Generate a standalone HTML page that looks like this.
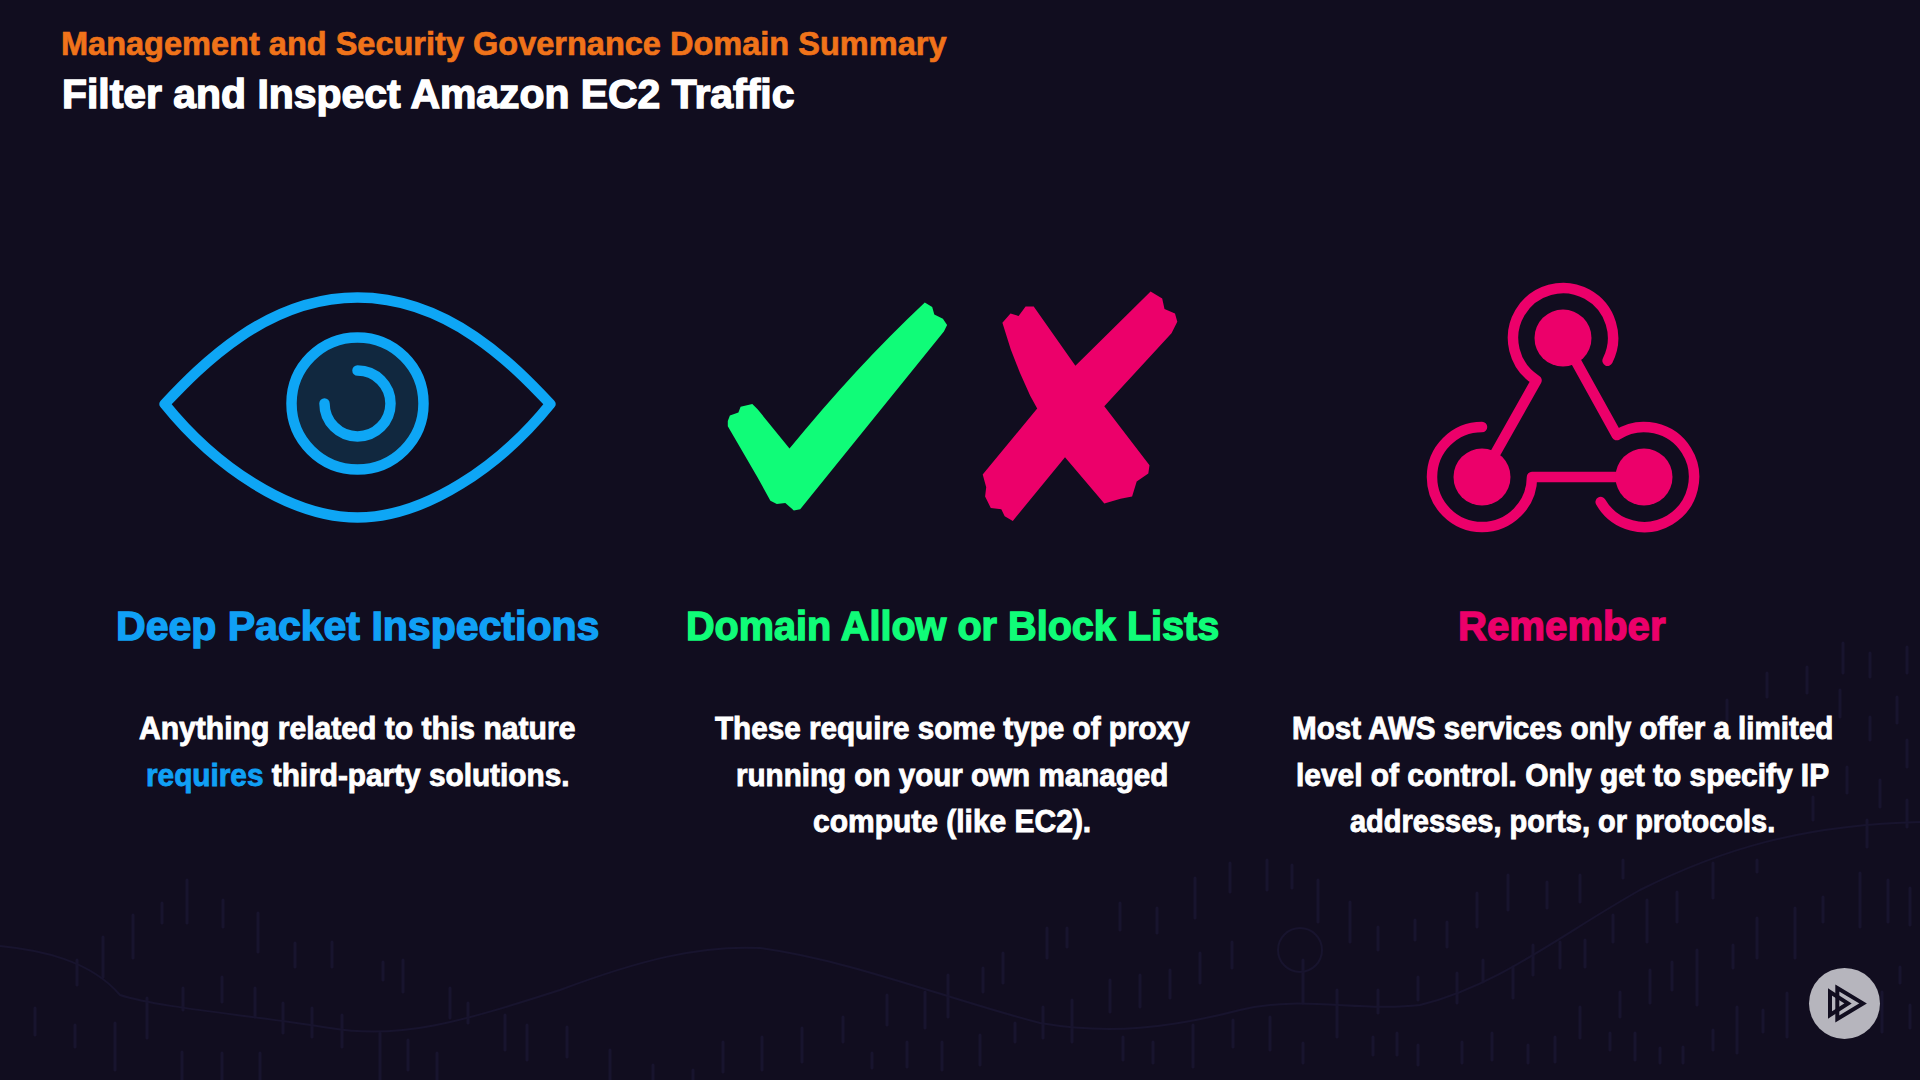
<!DOCTYPE html>
<html><head><meta charset="utf-8">
<style>
html,body{margin:0;padding:0;}
body{width:1920px;height:1080px;overflow:hidden;background:#110d1f;position:relative;font-family:"Liberation Sans",sans-serif;font-weight:bold;}
.t{position:absolute;white-space:nowrap;line-height:1;transform-origin:0 0;}
.o{color:#f0731a;}
.w{color:#fff;}
.blue{color:#10a0f5;}
.green{color:#10fc78;}
.pink{color:#ec006a;}
svg{position:absolute;left:0;top:0;}
</style></head>
<body>
<!--BG-->
<svg width="1920" height="1080" viewBox="0 0 1920 1080" style="position:absolute;left:0;top:0">
  <path d="M187 880V923 M162 903V923 M223 900V927 M133 915V958 M103 937V977 M77 960V985 M258 913V952 M295 943V967 M332 942V967 M383 962V980 M403 960V992 M147 998V1038 M183 988V1010 M222 977V1002 M255 988V1017 M283 1003V1033 M312 1008V1037 M342 1015V1047 M450 988V1018 M468 1003V1023 M505 1015V1050 M527 1025V1060 M567 1027V1057 M610 1050V1080 M35 1008V1035 M75 1025V1047 M115 1023V1070 M182 1052V1080 M222 1053V1080 M260 1053V1080 M380 1033V1080 M408 1040V1070 M437 1053V1080 M1120 903V930 M1157 908V933 M1195 878V918 M1230 863V892 M1267 860V890 M1047 928V958 M1067 928V947 M1003 953V983 M983 968V992 M948 975V1017 M887 995V1025 M925 992V1028 M1110 980V1012 M1140 975V1007 M1170 970V998 M1200 953V983 M1232 942V968 M1043 1007V1038 M1072 1000V1042 M1015 1023V1042 M980 1035V1065 M942 1042V1070 M907 1042V1067 M872 1053V1068 M843 1017V1042 M802 1028V1062 M762 1037V1070 M723 1042V1072 M653 1065V1080 M693 1070V1080 M1123 1037V1060 M1153 1042V1063 M1193 1025V1067 M1233 1020V1047 M1270 1017V1050 M1292 865V888 M1318 880V922 M1350 902V942 M1378 927V950 M1415 920V940 M1447 922V947 M1477 893V927 M1508 875V910 M1547 882V908 M1580 875V902 M1623 860V878 M1647 900V942 M1677 892V922 M1613 915V942 M1713 863V898 M1757 860V872 M1757 918V958 M1795 908V958 M1823 897V922 M1860 873V927 M1888 880V922 M1910 888V925 M1585 940V967 M1560 942V968 M1533 945V975 M1483 960V982 M1457 973V1003 M1418 977V1000 M1378 990V1013 M1337 990V1037 M1303 960V1003 M1513 967V998 M1672 962V990 M1650 970V1003 M1697 950V1005 M1733 945V968 M1620 992V1017 M1900 967V983 M1580 1007V1038 M1635 1033V1060 M1660 1048V1063 M1683 1047V1063 M1713 1030V1050 M1737 1007V1053 M1763 1010V1032 M1787 993V1037 M1882 992V1032 M1910 1005V1028 M1610 1033V1050 M1303 1043V1063 M1373 1037V1055 M1397 1033V1055 M1418 1045V1065 M1462 1042V1063 M1492 1033V1060 M1528 1045V1063 M1555 1037V1062 M1843 643V673 M1870 653V677 M1907 647V673 M1767 673V697 M1807 667V693 M1840 690V717 M1897 697V723 M1727 700V720 M1870 717V740 M1907 740V767 M1847 767V793 M1880 780V807 M1907 800V827 M1813 797V820 M1867 820V847" stroke="#18142e" stroke-width="3" stroke-linecap="round" fill="none"/>
  <path d="M0 946 C40 950 90 960 120 995 C160 1008 250 1015 330 1028 C400 1040 460 1022 560 990 C640 960 700 945 760 948 C850 960 950 1000 1040 1023 C1110 1035 1170 1028 1240 1010 C1300 995 1360 1012 1420 1005 C1500 985 1560 935 1640 890 C1720 850 1800 825 1920 822" stroke="#18142e" stroke-width="2" fill="none"/>
  <circle cx="1300" cy="950" r="22" stroke="#18142e" stroke-width="2" fill="none"/>
</svg>
<!--/BG-->
<svg width="1920" height="1080" viewBox="0 0 1920 1080">
  <!-- eye -->
  <g fill="none" stroke="#0ea6f5" stroke-width="10.5" stroke-linecap="round" stroke-linejoin="round">
    <path d="M164.7,404 C200.6,366.1 266.2,297.5 357.5,297.5 C448.8,297.5 514.4,366.1 550.3,404 C500.2,466.2 425.2,517.5 357.5,517.5 C289.8,517.5 214.8,466.2 164.7,404 Z"/>
    <circle cx="357.5" cy="403.5" r="66" fill="#11283f"/>
    <path d="M357.5,370.5 A33,33 0 1 1 324.5,403.5"/>
  </g>
  <!-- check -->
  <path fill="#10fc78" d="M727.8,421 L729.9,415.6 L738.4,412.4 L740.6,406.7 L752.3,403.9 L757.6,409.2 L789.5,448.6 Q855,368 924.8,302.4 L932.2,307 L934.3,314.5 L942.9,318.7 L947.1,325.1 L943.9,331.5 L800.2,509.3 L793.8,510.4 L785.3,502.9 L776.8,504 L770.4,500.8 L757.6,477.4 L727.8,426.3 Z"/>
  <!-- x -->
  <path fill="#ec006a" d="M1002.4,322.8 L1010.5,313.6 L1018.6,315.9 L1025.6,306.6 L1033.7,306.6 L1075.4,365.7 L1150.6,291.6 L1162.2,298.5 L1164.5,308.9 L1175,313.6 L1177.3,321.7 L1171.5,333.3 L1104.3,406.2 L1149.5,465.3 L1148.3,473.4 L1136.7,481.5 L1132.1,496.5 L1120.5,498.8 L1104.3,503.5 L1065,457.2 L1012.8,520.9 L1004.7,516.2 L1001.3,509.3 L990.8,508.1 L985.1,496.5 L986.2,487.3 L982.7,474.5 L1037.2,408.5 L1030.2,395.8 L1019.8,372.6 L1010.8,349.5 Z"/>
  <!-- webhook -->
  <g fill="none" stroke="#ec006a" stroke-width="10.5" stroke-linecap="round" stroke-linejoin="round">
    <path d="M1482,477 L1536.5,380.4 A50,50 0 1 1 1607.6,360.7"/>
    <path d="M1563,338 L1616.8,435.1 A50,50 0 1 1 1600.7,502"/>
    <path d="M1644,477 L1532,477 A50,50 0 1 1 1482,427"/>
  </g>
  <g fill="#ec006a">
    <circle cx="1563" cy="338" r="28.5"/>
    <circle cx="1482" cy="477" r="28.5"/>
    <circle cx="1644" cy="477" r="28.5"/>
  </g>
  <!-- logo -->
  <circle cx="1844.5" cy="1003.4" r="35.5" fill="#b6b5bd"/>
  <g fill="none" stroke="#110d1f" stroke-width="4" stroke-linejoin="miter">
    <path d="M1837.3,988 L1863,1003.4 L1837.3,1019 Z"/>
    <path d="M1830,992 L1848,1003.4 L1830,1015 Z"/>
  </g>
</svg>
<!--TEXT-->
<div class="t o" style="left:61.4px;top:25.8px;font-size:34px;transform:scaleX(0.9564);-webkit-text-stroke-width:0.7px">Management and Security Governance Domain Summary</div>
<div class="t w" style="left:62.0px;top:74.2px;font-size:41px;transform:scaleX(0.9973);-webkit-text-stroke-width:1.4px">Filter and Inspect Amazon EC2 Traffic</div>
<div class="t blue" style="left:116.0px;top:605.8px;font-size:41px;transform:scaleX(1.0006);-webkit-text-stroke-width:1.4px">Deep Packet Inspections</div>
<div class="t green" style="left:686.0px;top:605.8px;font-size:41px;transform:scaleX(0.9661);-webkit-text-stroke-width:1.4px">Domain Allow or Block Lists</div>
<div class="t pink" style="left:1458.3px;top:605.6px;font-size:41px;transform:scaleX(0.9795);-webkit-text-stroke-width:1.4px">Remember</div>
<div class="t w" style="left:139.4px;top:713.3px;font-size:31.5px;transform:scaleX(0.9553);-webkit-text-stroke-width:0.9px">Anything related to this nature</div>
<div class="t w" style="left:146.1px;top:759.8px;font-size:31.5px;transform:scaleX(0.9451);-webkit-text-stroke-width:0.9px"><span class="blue">requires</span> third-party solutions.</div>
<div class="t w" style="left:714.6px;top:713.3px;font-size:31.5px;transform:scaleX(0.9412);-webkit-text-stroke-width:0.9px">These require some type of proxy</div>
<div class="t w" style="left:735.9px;top:759.8px;font-size:31.5px;transform:scaleX(0.9393);-webkit-text-stroke-width:0.9px">running on your own managed</div>
<div class="t w" style="left:812.9px;top:806.3px;font-size:31.5px;transform:scaleX(0.9517);-webkit-text-stroke-width:0.9px">compute (like EC2).</div>
<div class="t w" style="left:1291.9px;top:713.3px;font-size:31.5px;transform:scaleX(0.9392);-webkit-text-stroke-width:0.9px">Most AWS services only offer a limited</div>
<div class="t w" style="left:1295.5px;top:759.8px;font-size:31.5px;transform:scaleX(0.9488);-webkit-text-stroke-width:0.9px">level of control. Only get to specify IP</div>
<div class="t w" style="left:1350.1px;top:806.3px;font-size:31.5px;transform:scaleX(0.9202);-webkit-text-stroke-width:0.9px">addresses, ports, or protocols.</div>
<!--/TEXT-->
</body></html>
